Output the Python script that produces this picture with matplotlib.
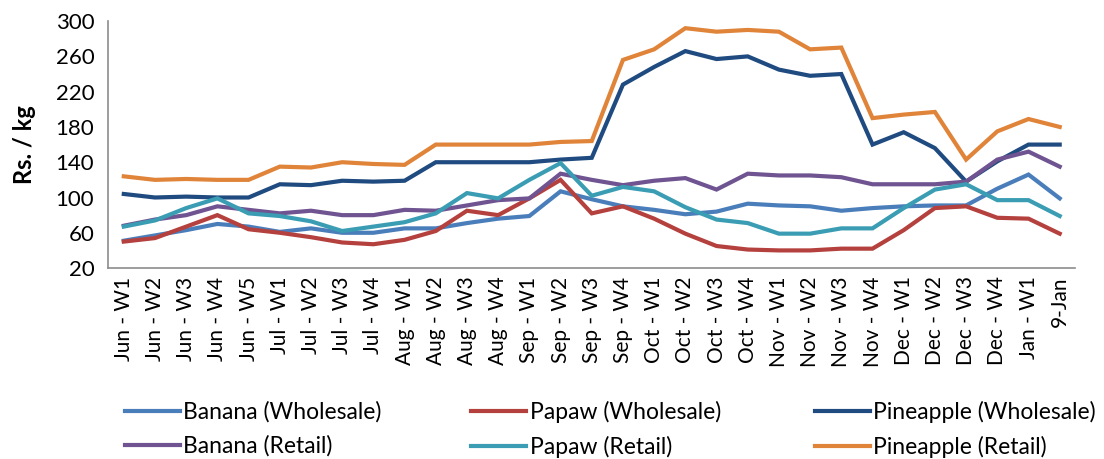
import matplotlib.pyplot as plt

weeks = [
    "Jun - W1", "Jun - W2", "Jun - W3", "Jun - W4", "Jun - W5",
    "Jul - W1", "Jul - W2", "Jul - W3", "Jul - W4",
    "Aug - W1", "Aug - W2", "Aug - W3", "Aug - W4",
    "Sep - W1", "Sep - W2", "Sep - W3", "Sep - W4",
    "Oct - W1", "Oct - W2", "Oct - W3", "Oct - W4",
    "Nov - W1", "Nov - W2", "Nov - W3", "Nov - W4",
    "Dec - W1", "Dec - W2", "Dec - W3", "Dec - W4",
    "Jan - W1", "9-Jan",
]

banana_wholesale = [51, 57, 63, 70, 67, 61, 65, 60, 60, 65, 65, 71, 76, 79, 107, 98,
                    90, 86, 81, 84, 93, 91, 90, 85, 88, 90, 91, 91, 110, 126, 99]
papaw_wholesale = [50, 54, 67, 80, 64, 60, 55, 49, 47, 52, 62, 85, 80, 99, 120, 82,
                   90, 76, 59, 45, 41, 40, 40, 42, 42, 63, 88, 90, 77, 76, 59]
pineapple_wholesale = [104, 100, 101, 100, 100, 115, 114, 119, 118, 119, 140, 140, 140, 140, 143, 145,
                       228, 248, 266, 257, 260, 245, 238, 240, 160, 174, 156, 118, 141, 160, 160]
banana_retail = [68, 75, 80, 90, 86, 82, 85, 80, 80, 86, 85, 91, 97, 99, 127, 120,
                 114, 119, 122, 109, 127, 125, 125, 123, 115, 115, 115, 118, 143, 152, 135]
papaw_retail = [67, 74, 88, 99, 82, 79, 73, 62, 67, 72, 82, 105, 99, 120, 139, 102,
                112, 107, 89, 75, 71, 59, 59, 65, 65, 88, 109, 115, 97, 97, 79]
pineapple_retail = [124, 120, 121, 120, 120, 135, 134, 140, 138, 137, 160, 160, 160, 160, 163, 164,
                    256, 268, 292, 288, 290, 288, 268, 270, 190, 194, 197, 143, 175, 189, 180]

series = [
    ("Banana (Wholesale)", banana_wholesale, "#4a7ebb"),
    ("Papaw (Wholesale)", papaw_wholesale, "#b5413e"),
    ("Pineapple (Wholesale)", pineapple_wholesale, "#1f4b80"),
    ("Banana (Retail)", banana_retail, "#6f5491"),
    ("Papaw (Retail)", papaw_retail, "#3a9db3"),
    ("Pineapple (Retail)", pineapple_retail, "#e0843a"),
]

plt.rcParams["font.family"] = ["Lato", "DejaVu Sans"]

fig = plt.figure(figsize=(11.04, 4.59), dpi=100)
ax = fig.add_axes([0.098, 0.416, 0.876, 0.538])

x = list(range(len(weeks)))
lines = {}
for name, vals, color in series:
    (ln,) = ax.plot(x, vals, color=color, linewidth=3, solid_joinstyle="miter")
    lines[name] = ln

ax.set_xlim(-0.5, len(weeks) - 0.5)
ax.set_ylim(20, 300)
ax.set_yticks(range(20, 301, 40))
ax.set_xticks(x)
ax.set_xticklabels(weeks, rotation=90, fontsize=15)
ax.tick_params(axis="y", labelsize=16, length=0, pad=10)
ax.tick_params(axis="x", length=0, pad=6)

for side in ["top", "right"]:
    ax.spines[side].set_visible(False)
for side in ["left", "bottom"]:
    ax.spines[side].set_color("#8c8c8c")
    ax.spines[side].set_linewidth(1.2)

ax.set_ylabel("Rs. / kg", fontsize=17, fontweight="bold", labelpad=14)

# one legend per column, so the columns sit where the reference has them
columns = [
    (0.113, ["Banana (Wholesale)", "Banana (Retail)"]),
    (0.427, ["Papaw (Wholesale)", "Papaw (Retail)"]),
    (0.738, ["Pineapple (Wholesale)", "Pineapple (Retail)"]),
]
for xpos, names in columns:
    fig.legend([lines[n] for n in names], names, loc="upper left",
               bbox_to_anchor=(xpos, 0.126), frameon=False, fontsize=16.5,
               handlelength=2.4, handletextpad=0.15, labelspacing=0.55,
               borderpad=0, borderaxespad=0)

fig.savefig("out.png", dpi=100)
